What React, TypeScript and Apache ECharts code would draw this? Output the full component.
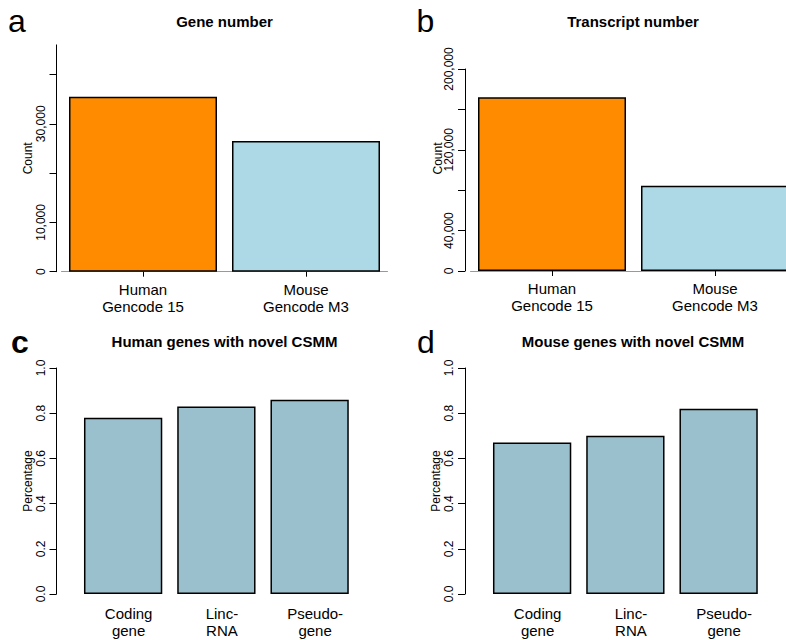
import React, { useEffect, useRef } from "react";
import * as echarts from "echarts";

// ---- data ----
const genomeCategories = ["Human\nGencode 15", "Mouse\nGencode M3"];
const geneCounts = [35500, 26500];
const transcriptCounts = [172000, 84500];
const geneTickValues = [0, 10000, 20000, 30000, 40000];
const geneLabelValues = [0, 10000, 30000];
const transcriptTickValues = [0, 40000, 80000, 120000, 160000, 200000];
const transcriptLabelValues = [0, 40000, 120000, 200000];

const biotypeCategories = ["Coding\ngene", "Linc-\nRNA", "Pseudo-\ngene"];
const humanCsmm = [0.78, 0.83, 0.86];
const mouseCsmm = [0.67, 0.70, 0.82];

const titles = ["Gene number", "Transcript number", "Human genes with novel CSMM", "Mouse genes with novel CSMM"];
const panelLetters = ["a", "b", "c", "d"];

const FONT = "'Liberation Sans', Arial, Helvetica, sans-serif";
const ORANGE = "#FF8C00";
const LIGHTBLUE = "#ADD8E6";
const LIGHTBLUE3 = "#9AC0CD";

const fmtCount = (v: number) => v.toLocaleString("en-US");

export default function App() {
  const ref = useRef<HTMLDivElement>(null);
  useEffect(() => {
    if (!ref.current) return;
    const chart = echarts.init(ref.current, null, { renderer: "svg" });

    const yCommon = (offset: number) => ({
      type: "value" as const,
      min: 0,
      offset,
      splitLine: { show: false },
      axisLine: { show: true, lineStyle: { color: "#000", width: 1 } },
      axisTick: { show: true, length: 7, lineStyle: { color: "#000", width: 1 } },
      nameLocation: "middle" as const,
      nameRotate: 90,
      nameGap: 22,
      nameTextStyle: { fontFamily: FONT, fontSize: 12, color: "#000" },
    });
    const yLabel = (formatter: any, extra: any = {}) => ({
      show: true,
      rotate: 90,
      margin: 10,
      fontFamily: FONT,
      fontSize: 12,
      color: "#000",
      formatter,
      ...extra,
    });

    const xTop = (gridIndex: number) => ({
      type: "category" as const,
      gridIndex,
      data: genomeCategories,
      axisLine: { show: true, lineStyle: { color: "#999", width: 1 } },
      axisTick: { show: true, alignWithLabel: true, length: 5, lineStyle: { color: "#000", width: 1 } },
      axisLabel: { fontFamily: FONT, fontSize: 15, lineHeight: 17, color: "#000", margin: 9 },
    });
    const xBottom = (gridIndex: number) => ({
      type: "category" as const,
      gridIndex,
      data: biotypeCategories,
      axisLine: { show: false },
      axisTick: { show: false },
      axisLabel: {
        fontFamily: FONT,
        fontSize: 15,
        lineHeight: 17,
        color: "#000",
        margin: 10.5,
        padding: [0, 0, 0, 11],
      },
    });

    const barStyle = (color: string) => ({ color, borderColor: "#000", borderWidth: 1.5 });

    const textEl = (text: string, x: number, y: number, size: number, weight: string, rotation = 0) => ({
      type: "text",
      x,
      y,
      rotation,
      silent: true,
      style: {
        text,
        fill: "#000",
        fontFamily: FONT,
        fontSize: size,
        fontWeight: weight,
        align: "center",
        verticalAlign: "middle",
      },
    });
    const letterEl = (text: string, x: number, y: number, weight: string) => ({
      type: "text",
      x,
      y,
      silent: true,
      style: {
        text,
        fill: "#000",
        fontFamily: FONT,
        fontSize: 32,
        fontWeight: weight,
        align: "left",
        verticalAlign: "middle",
      },
    });

    const gridBase = { containLabel: false, outerBoundsMode: "none" };

    chart.setOption({
      animation: false,
      backgroundColor: "#fff",
      grid: [
        { ...gridBase, left: 61.5, width: 326, top: 44.9, height: 226.8 },
        { ...gridBase, left: 470.5, width: 326, top: 69, height: 202 },
        { ...gridBase, left: 76.5, width: 279.75, top: 368, height: 226 },
        { ...gridBase, left: 485.5, width: 279.75, top: 368, height: 226 },
      ],
      xAxis: [xTop(0), xTop(1), xBottom(2), xBottom(3)],
      yAxis: [
        {
          ...yCommon(5),
          gridIndex: 0,
          max: 46000,
          name: "Count",
          axisTick: { show: true, length: 7, lineStyle: { color: "#000", width: 1 }, customValues: geneTickValues },
          axisLabel: yLabel((v: number) => (geneLabelValues.includes(v) ? fmtCount(v) : ""), { customValues: geneLabelValues }),
        },
        {
          ...yCommon(5.5),
          gridIndex: 1,
          max: 200000,
          interval: 40000,
          axisTick: { show: true, length: 7, lineStyle: { color: "#000", width: 1 }, customValues: transcriptTickValues },
          axisLabel: yLabel((v: number) => (transcriptLabelValues.includes(v) ? fmtCount(v) : ""), {
            customValues: transcriptLabelValues,
          }),
        },
        {
          ...yCommon(20),
          gridIndex: 2,
          max: 1,
          interval: 0.2,
          name: "Percentage",
          axisLabel: yLabel((v: number) => v.toFixed(1)),
        },
        {
          ...yCommon(20.5),
          gridIndex: 3,
          max: 1,
          interval: 0.2,
          name: "Percentage",
          axisLabel: yLabel((v: number) => v.toFixed(1)),
        },
      ],
      series: [
        {
          type: "bar",
          xAxisIndex: 0,
          yAxisIndex: 0,
          barWidth: 148,
          data: geneCounts.map((v, i) => ({ value: v, itemStyle: barStyle(i === 0 ? ORANGE : LIGHTBLUE) })),
        },
        {
          type: "bar",
          xAxisIndex: 1,
          yAxisIndex: 1,
          barWidth: 148,
          data: transcriptCounts.map((v, i) => ({ value: v, itemStyle: barStyle(i === 0 ? ORANGE : LIGHTBLUE) })),
        },
        {
          type: "bar",
          xAxisIndex: 2,
          yAxisIndex: 2,
          barWidth: 78.3,
          itemStyle: barStyle(LIGHTBLUE3),
          data: humanCsmm,
        },
        {
          type: "bar",
          xAxisIndex: 3,
          yAxisIndex: 3,
          barWidth: 78.3,
          itemStyle: barStyle(LIGHTBLUE3),
          data: mouseCsmm,
        },
      ],
      graphic: [
        textEl(titles[0], 224.5, 21.5, 15, "bold"),
        textEl(titles[1], 633, 21.5, 15, "bold"),
        textEl(titles[2], 224.5, 341.5, 15, "bold"),
        textEl(titles[3], 633, 341.5, 15, "bold"),
        textEl("Count", 438, 158.5, 12, "normal", Math.PI / 2),
        letterEl(panelLetters[0], 8, 21, "normal"),
        letterEl(panelLetters[1], 416.5, 21, "normal"),
        letterEl(panelLetters[2], 11, 342, "bold"),
        letterEl(panelLetters[3], 417, 342, "normal"),
      ],
    });
    return () => chart.dispose();
  }, []);
  return (
    <div
      ref={ref}
      style={{ position: "fixed", left: 0, top: 0, width: 786, height: 640, background: "#fff" }}
    />
  );
}
